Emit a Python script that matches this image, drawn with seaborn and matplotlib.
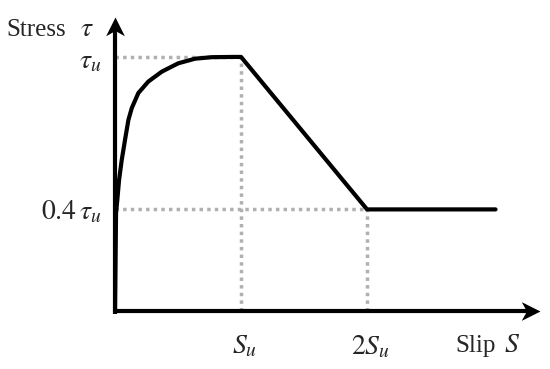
import numpy as np
import pandas as pd
import matplotlib
matplotlib.use("Agg")
import matplotlib.pyplot as plt
from matplotlib.path import Path
import seaborn as sns

# bond stress-slip curve (S in units of Su, tau in units of tau_u)
slip = [0.0, 0.008, 0.018, 0.032, 0.053, 0.079, 0.106, 0.133, 0.185, 0.264,
        0.371, 0.502, 0.635, 0.767, 0.937, 1.0, 2.0, 3.02]
stress = [0.0, 0.386, 0.437, 0.516, 0.594, 0.673, 0.752, 0.799, 0.858, 0.903,
          0.942, 0.975, 0.993, 0.999, 1.0, 1.0, 0.4, 0.4]
s_u = 1.0
tau_u = 1.0
residual = 0.4

sns.set_theme(style="white")
plt.rcParams['font.family'] = ['Liberation Serif', 'DejaVu Serif']
plt.rcParams['mathtext.fontset'] = 'stix'

fig = plt.figure(figsize=(5.5, 3.69), dpi=100)
ax = fig.add_axes([0, 0, 1, 1])
ax.set_xlim(-0.913, 3.452)
ax.set_ylim(-0.228, 1.224)
ax.axis('off')

df = pd.DataFrame({'slip': slip, 'stress': stress})

# dotted guide lines
grey = '#b0b0b0'
dot = dict(color=grey, lw=2.5, linestyle=(0, (1, 1.2)), solid_capstyle='butt')
ax.plot([0, s_u], [tau_u, tau_u], **dot)
ax.plot([s_u, s_u], [0, tau_u], **dot)
ax.plot([0, 2 * s_u], [residual * tau_u, residual * tau_u], **dot)
ax.plot([2 * s_u, 2 * s_u], [0, residual * tau_u], **dot)

sns.lineplot(data=df, x='slip', y='stress', ax=ax, color='black', lw=3,
             sort=False, estimator=None)
ax.lines[-1].set_solid_joinstyle('round')

# axes with stealth-like arrow heads
x_end, y_end = 3.37, 1.157
ax.plot([-0.01, x_end - 0.05], [0, 0], color='black', lw=3, solid_capstyle='butt')
ax.plot([0, 0], [-0.01, y_end - 0.03], color='black', lw=3, solid_capstyle='butt')
up = Path([(0, 0), (-0.5, -1), (0, -0.72), (0.5, -1), (0, 0)],
          [Path.MOVETO, Path.LINETO, Path.LINETO, Path.LINETO, Path.CLOSEPOLY])
right = Path([(0, 0), (-1, 0.5), (-0.72, 0), (-1, -0.5), (0, 0)],
             [Path.MOVETO, Path.LINETO, Path.LINETO, Path.LINETO, Path.CLOSEPOLY])
ax.plot([0], [y_end], marker=up, markersize=27, color='black', mew=0)
ax.plot([x_end], [0], marker=right, markersize=27, color='black', mew=0)

fs = 18
fm = 20
ax.text(-0.865, 1.083, 'Stress', fontsize=fs, ha='left', va='baseline')
ax.text(-0.28, 1.083, r'$\tau$', fontsize=fm, ha='left', va='baseline')
ax.text(-0.11, tau_u - 0.02, r'$\tau_u$', fontsize=fm, ha='right', va='center')
ax.text(-0.11, residual * tau_u - 0.01, r'$0.4\,\tau_u$', fontsize=fm, ha='right', va='center')
ax.text(s_u + 0.03, -0.14, r'$S_u$', fontsize=fm, ha='center', va='center')
ax.text(2 * s_u + 0.03, -0.14, r'$2S_u$', fontsize=fm, ha='center', va='center')
ax.text(2.70, -0.161, 'Slip', fontsize=fs, ha='left', va='baseline')
ax.text(3.09, -0.161, r'$S$', fontsize=fm, ha='left', va='baseline')

fig.savefig('out.png', dpi=100)
